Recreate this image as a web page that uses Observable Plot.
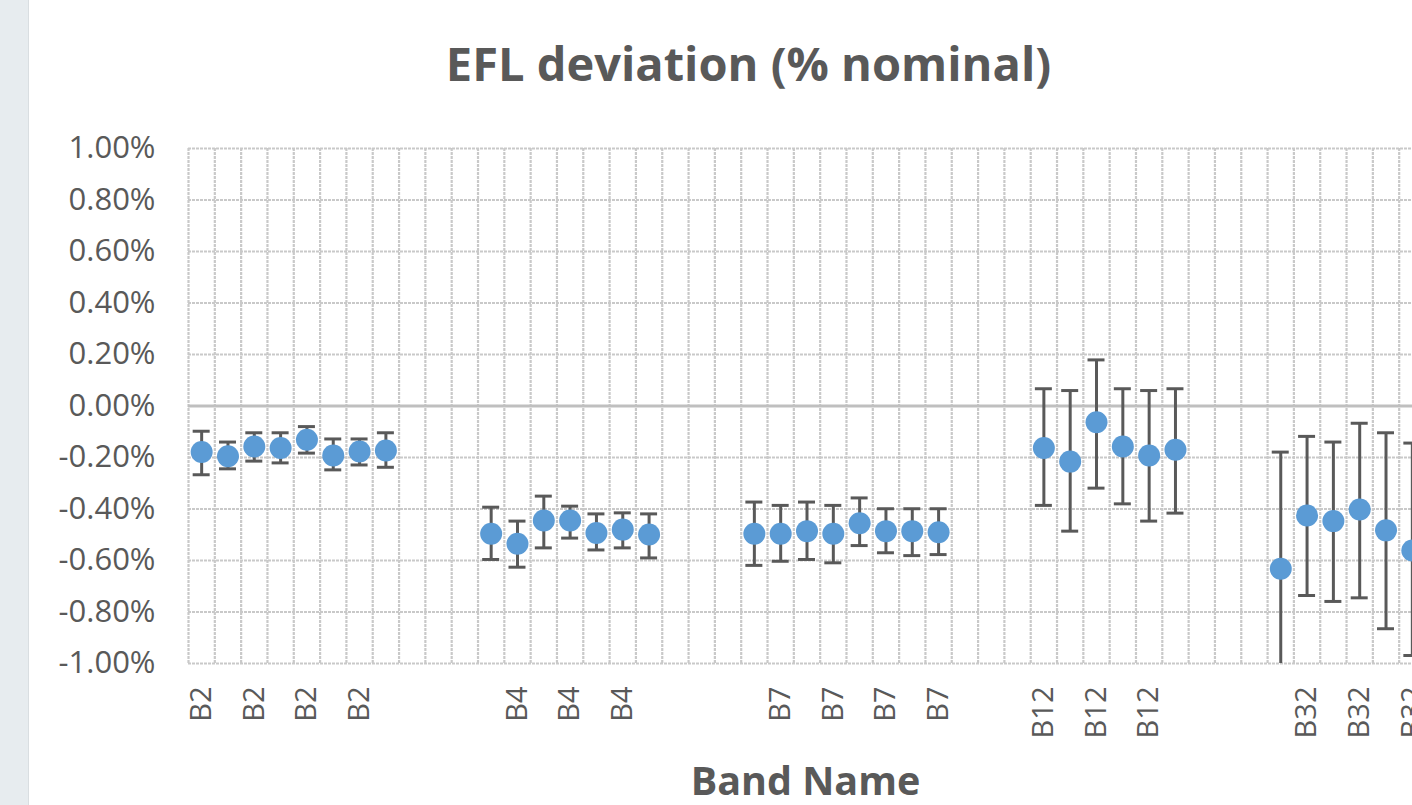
<!DOCTYPE html>
<html>
<head>
<meta charset="utf-8">
<script src="https://cdn.jsdelivr.net/npm/d3@7"></script>
<script src="https://cdn.jsdelivr.net/npm/@observablehq/plot@0.6"></script>
<style>
  html, body { margin: 0; padding: 0; width: 1412px; height: 805px; overflow: hidden; background: #fff; font-family: "Open Sans", sans-serif; }
  #strip { position: absolute; left: 0; top: 0; width: 28px; height: 805px; background: #e7ecef; border-right: 1px solid #d9dee1; }
  #chart { position: absolute; left: 0; top: 0; }
  .lbl { position: absolute; white-space: nowrap; text-align: center; color: #595959; font-weight: 700; line-height: 1; }
  #title { left: 0; width: 1497px; top: 40px; font-size: 47px; }
  #xlabel { left: 0; width: 1611px; top: 761px; font-size: 39.5px; }
</style>
</head>
<body>
<div id="strip"></div>
<div id="chart"></div>
<div id="title" class="lbl">EFL deviation (% nominal)</div>
<div id="xlabel" class="lbl">Band Name</div>
<script>
// Categories (Excel category slots; "" = empty slot between bands)
const categories = [
  "B2","B2","B2","B2","B2","B2","B2","B2", "", "", "",
  "B4","B4","B4","B4","B4","B4","B4", "", "", "",
  "B7","B7","B7","B7","B7","B7","B7","B7", "", "", "",
  "B12","B12","B12","B12","B12","B12", "", "", "",
  "B32","B32","B32","B32","B32","B32"
];
// EFL deviation (%), mean
const meanVals = [
  -0.179,-0.195,-0.157,-0.163,-0.131,-0.192,-0.177,-0.173, null,null,null,
  -0.496,-0.535,-0.445,-0.445,-0.493,-0.480,-0.499, null,null,null,
  -0.496,-0.496,-0.486,-0.496,-0.455,-0.486,-0.486,-0.490, null,null,null,
  -0.163,-0.216,-0.063,-0.157,-0.192,-0.170, null,null,null,
  -0.632,-0.425,-0.447,-0.402,-0.483,-0.561
];
// error bar upper end (%)
const highVals = [
  -0.098,-0.140,-0.104,-0.104,-0.080,-0.128,-0.128,-0.104, null,null,null,
  -0.393,-0.447,-0.350,-0.389,-0.419,-0.415,-0.419, null,null,null,
  -0.373,-0.386,-0.373,-0.386,-0.357,-0.399,-0.399,-0.399, null,null,null,
  0.067,0.060,0.179,0.067,0.060,0.067, null,null,null,
  -0.179,-0.118,-0.140,-0.067,-0.104,-0.144
];
// error bar lower end (%)
const lowVals = [
  -0.267,-0.244,-0.214,-0.221,-0.183,-0.248,-0.229,-0.238, null,null,null,
  -0.596,-0.626,-0.551,-0.513,-0.559,-0.551,-0.590, null,null,null,
  -0.619,-0.603,-0.596,-0.609,-0.542,-0.570,-0.581,-0.577, null,null,null,
  -0.386,-0.486,-0.319,-0.380,-0.447,-0.416, null,null,null,
  -1.085,-0.736,-0.759,-0.745,-0.865,-0.969
];
const yTicks = [-1.0,-0.8,-0.6,-0.4,-0.2,0,0.2,0.4,0.6,0.8,1.0];

const rows = categories.map((c, i) => ({i, band: c, v: meanVals[i], lo: lowVals[i], hi: highVals[i]}))
  .filter(d => d.v != null);
const slotEdges = d3.range(categories.length + 1).map(k => k - 0.5);
const labelTicks = d3.range(0, categories.length, 2);

const gridColor = "#c9c9c9";
const ink = "#595959";

const chart = Plot.plot({
  width: 1450,
  height: 805,
  marginLeft: 188,
  marginRight: 25,
  marginTop: 148,
  marginBottom: 142,
  style: {maxWidth: "none", background: "transparent", color: ink, fontFamily: "'Open Sans', sans-serif"},
  x: {type: "linear", domain: [-0.5, categories.length - 0.5]},
  y: {domain: [-1, 1]},
  marks: [
    Plot.gridY({ticks: yTicks, stroke: gridColor, strokeOpacity: 1, strokeWidth: 2.2, strokeDasharray: "3,1"}),
    Plot.ruleX(slotEdges, {stroke: gridColor, strokeWidth: 2.2, strokeDasharray: "3,1"}),
    Plot.ruleY([0], {stroke: "#bfbfbf", strokeWidth: 3}),
    Plot.ruleX(rows, {x: "i", y1: "lo", y2: "hi", stroke: ink, strokeWidth: 3, clip: true}),
    Plot.ruleY(rows, {y: "hi", x1: "i", x2: "i", insetLeft: -8.5, insetRight: -8.5, stroke: ink, strokeWidth: 3, clip: true}),
    Plot.ruleY(rows, {y: "lo", x1: "i", x2: "i", insetLeft: -8.5, insetRight: -8.5, stroke: ink, strokeWidth: 3, clip: true}),
    Plot.dot(rows, {x: "i", y: "v", r: 11, fill: "#5B9BD5", stroke: "none"}),
    Plot.axisY({ticks: yTicks, tickFormat: d => d.toFixed(2) + "%", tickSize: 0, tickPadding: 33, fontSize: 31, label: null, fill: ink}),
    Plot.axisX({ticks: labelTicks, tickFormat: i => categories[i], tickRotate: -90, tickSize: 0, tickPadding: 23, fontSize: 29, label: null, fill: ink})
  ]
});
document.getElementById("chart").appendChild(chart);
</script>
</body>
</html>
